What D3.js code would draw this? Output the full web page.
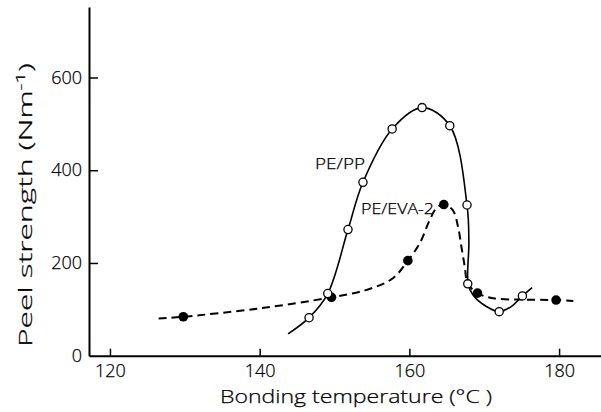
<!DOCTYPE html>
<html>
<head>
<meta charset="utf-8">
<script src="https://cdn.jsdelivr.net/npm/d3@7"></script>
<style>
  html, body { margin: 0; padding: 0; background: #fff; }
  svg { display: block; }
  text { font-family: "Open Sans", "Liberation Sans", Arial, sans-serif; font-weight: 300; fill: #000; stroke: #000; stroke-width: 0.25px; }
</style>
</head>
<body>
<svg id="chart" width="601" height="412"></svg>
<script>
// ---- data ----
const xTicks = [120, 140, 160, 180];
const yTicks = [0, 200, 400, 600];

// PE/PP — open circles (temperature °C, peel strength N/m)
const ppTemp     = [146.6, 149.1, 151.8, 153.8, 157.7, 161.7, 165.4, 167.7, 167.8, 172.0, 175.1];
const ppStrength = [82, 134, 272, 374, 489, 535, 496, 325, 155, 95, 129];
// hand-drawn smooth curve through PE/PP
const ppCurveTemp     = [143.8, 146.6, 149.1, 151.8, 153.8, 157.7, 161.7, 165.4, 167.7, 167.95, 167.85, 168.5, 170.3, 172.0, 173.6, 175.1, 176.4];
const ppCurveStrength = [47, 82, 134, 272, 374, 489, 535, 496, 325, 245, 155, 131, 106, 95, 106, 129, 147];

// PE/EVA-2 — filled circles
const evaTemp     = [129.8, 149.6, 159.8, 164.6, 169.1, 179.6];
const evaStrength = [84, 126, 205, 326, 135, 120];
// hand-drawn dashed curve through PE/EVA-2
const evaCurveTemp     = [126.5, 129.8, 140.0, 149.6, 154.3, 157.8, 159.8, 161.4, 162.7, 163.6, 164.6, 165.8, 166.5, 166.95, 167.4, 167.8, 169.1, 171.2, 175.0, 179.6, 181.9];
const evaCurveStrength = [80, 84, 102, 126, 142, 167, 205, 243, 292, 318, 326, 314, 278, 235, 192, 156, 135, 124, 121, 120, 118];

const labels = { pp: "PE/PP", eva: "PE/EVA-2" };

// ---- chart ----
const svg = d3.select("#chart");
const x = d3.scaleLinear().domain([117.2, 185.6]).range([89, 601]);
const y = d3.scaleLinear().domain([0, 752]).range([355.7, 7]);
const FONT = "Open Sans, Liberation Sans, Arial, sans-serif";

// axes
const xAxis = d3.axisBottom(x).tickValues(xTicks).tickSizeInner(-7).tickSizeOuter(0).tickPadding(9);
const gx = svg.append("g").attr("transform", `translate(0,${y(0)})`).call(xAxis);
gx.select(".domain").attr("stroke-width", 2);
gx.selectAll(".tick line").attr("stroke-width", 1.5);
gx.selectAll(".tick text").attr("font-size", 18).attr("font-family", FONT).attr("font-weight", 300);

const yAxis = d3.axisLeft(y).tickValues(yTicks).tickSizeInner(-9).tickSizeOuter(0).tickPadding(7);
const gy = svg.append("g").attr("transform", `translate(${x(117.2)},0)`).call(yAxis);
gy.select(".domain").attr("stroke-width", 2);
gy.selectAll(".tick line").attr("stroke-width", 1.5).attr("display", d => d === 0 ? "none" : null);
gy.selectAll(".tick text").attr("font-size", 18).attr("font-family", FONT).attr("font-weight", 300);

// axis titles
svg.append("text")
  .attr("x", 220).attr("y", 403)
  .attr("font-size", 18)
  .attr("textLength", 272).attr("lengthAdjust", "spacingAndGlyphs")
  .text("Bonding temperature (°C )");

const yt = svg.append("text")
  .attr("transform", "translate(32,347) rotate(-90)")
  .attr("font-size", 18)
  .attr("textLength", 284).attr("lengthAdjust", "spacingAndGlyphs");
yt.append("tspan").text("Peel strength (Nm");
yt.append("tspan").attr("dy", -7).attr("font-size", 12).text("-1");
yt.append("tspan").attr("dy", 7).text(")");

// curves
const line = d3.line().x(d => x(d[0])).y(d => y(d[1])).curve(d3.curveCatmullRom.alpha(0.5));
const ppCurve = ppCurveTemp.map((t, i) => [t, ppCurveStrength[i]]);
const evaCurve = evaCurveTemp.map((t, i) => [t, evaCurveStrength[i]]);

svg.append("path").datum(evaCurve).attr("d", line)
  .attr("fill", "none").attr("stroke", "#000").attr("stroke-width", 2)
  .attr("stroke-dasharray", "8,5");
svg.append("path").datum(ppCurve).attr("d", line)
  .attr("fill", "none").attr("stroke", "#000").attr("stroke-width", 1.6);

// markers
svg.selectAll("circle.eva").data(evaTemp.map((t, i) => [t, evaStrength[i]])).enter()
  .append("circle").attr("class", "eva")
  .attr("cx", d => x(d[0])).attr("cy", d => y(d[1])).attr("r", 4.8)
  .attr("fill", "#000");
svg.selectAll("circle.pp").data(ppTemp.map((t, i) => [t, ppStrength[i]])).enter()
  .append("circle").attr("class", "pp")
  .attr("cx", d => x(d[0])).attr("cy", d => y(d[1])).attr("r", 4.1)
  .attr("fill", "#fff").attr("stroke", "#000").attr("stroke-width", 1.3);

// series labels
svg.append("text").attr("x", 315).attr("y", 169).attr("font-size", 14).attr("font-weight", 400)
  .attr("textLength", 50).attr("lengthAdjust", "spacingAndGlyphs").text(labels.pp);
svg.append("text").attr("x", 361).attr("y", 214).attr("font-size", 14).attr("font-weight", 400)
  .attr("textLength", 73).attr("lengthAdjust", "spacingAndGlyphs").text(labels.eva);
</script>
</body>
</html>
